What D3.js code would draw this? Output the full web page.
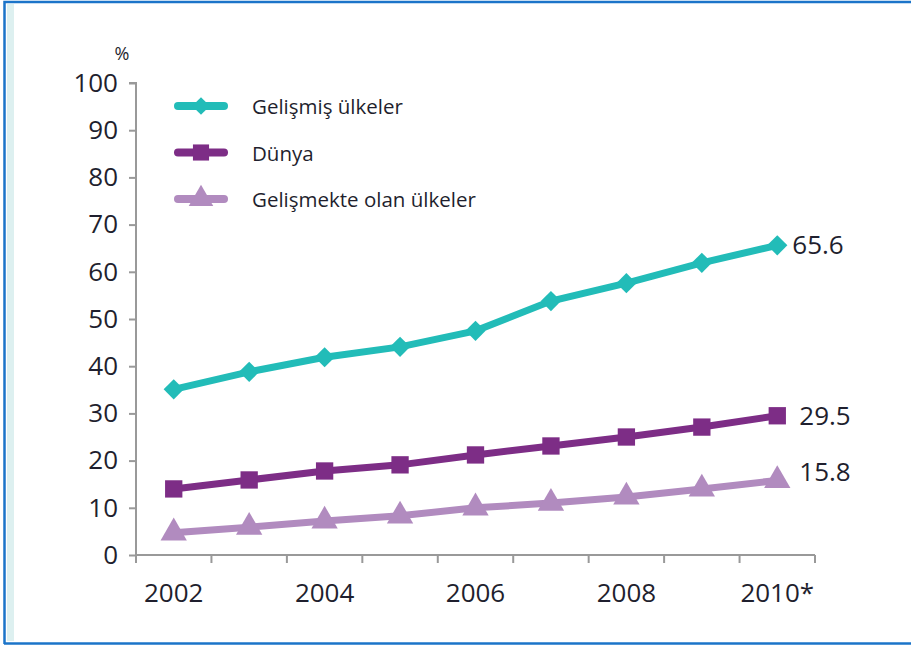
<!DOCTYPE html>
<html lang="tr">
<head>
<meta charset="utf-8">
<title>Gelişmiş ülkeler / Dünya / Gelişmekte olan ülkeler</title>
<script src="https://d3js.org/d3.v7.min.js"></script>
<style>
  body { margin: 0; background: #fff; }
  text { font-family: "Open Sans", Lato, sans-serif; fill: #1f1f2e; }
</style>
</head>
<body>
<script>
var years = ["2002", "2003", "2004", "2005", "2006", "2007", "2008", "2009", "2010"];
var yearLabels = {"2002": "2002", "2004": "2004", "2006": "2006", "2008": "2008", "2010": "2010*"};
var yTicks = [0, 10, 20, 30, 40, 50, 60, 70, 80, 90, 100];

var developed = [35.1, 38.8, 41.9, 44.1, 47.5, 53.8, 57.6, 61.9, 65.6];
var world = [14.0, 15.9, 17.8, 19.1, 21.2, 23.1, 25.0, 27.1, 29.5];
var developing = [4.7, 5.9, 7.2, 8.3, 10.0, 11.0, 12.3, 14.0, 15.8];

var seriesNames = ["Gelişmiş ülkeler", "Dünya", "Gelişmekte olan ülkeler"];
var seriesColors = ["#22bcb8", "#7d2d86", "#b18bbf"];
var seriesSymbols = [d3.symbolDiamond2, d3.symbolSquare, d3.symbolTriangle];

var series = [developed, world, developing].map(function(v, i) {
  return { name: seriesNames[i], values: v, color: seriesColors[i], symbol: seriesSymbols[i] };
});

var width = 911, height = 646;
var svg = d3.select("body").append("svg")
    .attr("width", width)
    .attr("height", height);

// frame
svg.append("rect").attr("x", 7).attr("y", 4).attr("width", 7).attr("height", 637).attr("fill", "#ddf0f0");
svg.append("path").attr("d", "M4.5,644V2H911").attr("fill", "none").attr("stroke", "#1b74c9").attr("stroke-width", 2.5);
svg.append("line").attr("x1", 4).attr("x2", 911).attr("y1", 643.5).attr("y2", 643.5)
    .attr("stroke", "#1b74c9").attr("stroke-width", 2.5);

var x0 = 136, x1 = 815, yTop = 83, yBot = 555;

var x = d3.scaleBand().domain(years).range([x0, x1]);
var y = d3.scaleLinear().domain([0, 100]).range([yBot, yTop]);

// y axis
var yAxis = svg.append("g")
    .attr("transform", "translate(" + x0 + ",0)")
    .call(d3.axisLeft(y).tickValues(yTicks).tickSize(7).tickPadding(11));
yAxis.select(".domain").attr("stroke", "#999").attr("stroke-width", 2).attr("d", "M-7," + yTop + "H0V" + yBot);
yAxis.selectAll(".tick line").attr("stroke", "#999").attr("stroke-width", 2);
yAxis.selectAll(".tick text").style("font-size", "26px").attr("fill", "#1f1f2e");

// x axis
var xAxis = svg.append("g")
    .attr("transform", "translate(0," + yBot + ")")
    .call(d3.axisBottom(x).tickSize(0).tickFormat(function(d) { return yearLabels[d] || ""; }).tickPadding(29));
xAxis.select(".domain").attr("stroke", "#999").attr("stroke-width", 2).attr("d", "M" + x0 + ",0H" + x1);
xAxis.selectAll(".tick text").style("font-size", "26px").attr("fill", "#1f1f2e");
xAxis.selectAll(".boundary")
    .data(years.concat(["end"]))
  .enter().append("line")
    .attr("x1", function(d, i) { return x0 + i * x.step(); })
    .attr("x2", function(d, i) { return x0 + i * x.step(); })
    .attr("y1", 0).attr("y2", 8)
    .attr("stroke", "#999").attr("stroke-width", 2);

svg.append("text").attr("x", 122).attr("y", 60).attr("text-anchor", "middle")
    .style("font-size", "18px").text("%");

var line = d3.line()
    .x(function(d, i) { return x(years[i]) + x.bandwidth() / 2; })
    .y(function(d) { return y(d); });

var g = svg.selectAll(".series")
    .data(series)
  .enter().append("g");

g.append("path")
    .attr("d", function(d) { return line(d.values); })
    .attr("fill", "none")
    .attr("stroke", function(d) { return d.color; })
    .attr("stroke-width", 7);

g.each(function(s) {
  d3.select(this).selectAll(".pt")
      .data(s.values)
    .enter().append("path")
      .attr("transform", function(d, i) {
        return "translate(" + (x(years[i]) + x.bandwidth() / 2) + "," + y(d) + ")";
      })
      .attr("d", d3.symbol().type(s.symbol).size(s.symbol === d3.symbolDiamond2 ? 260 : 300))
      .attr("fill", s.color);

  var last = s.values[s.values.length - 1];
  d3.select(this).append("text")
      .attr("x", x(years[years.length - 1]) + x.bandwidth() / 2 + (s.symbol === d3.symbolDiamond2 ? 15 : 22))
      .attr("y", y(last) + (s.symbol === d3.symbolTriangle ? -9 : 0))
      .attr("dy", "0.35em")
      .style("font-size", "26px")
      .text(last.toFixed(1));
});

// legend
var legend = svg.selectAll(".legend")
    .data(series)
  .enter().append("g")
    .attr("transform", function(d, i) { return "translate(178," + (106 + i * 46.5) + ")"; });
legend.append("line").attr("x1", 0).attr("x2", 46).attr("y1", 0).attr("y2", 0)
    .attr("stroke", function(d) { return d.color; }).attr("stroke-width", 8).attr("stroke-linecap", "round");
legend.append("path").attr("transform", "translate(23,0)")
    .attr("d", function(d) { return d3.symbol().type(d.symbol).size(d.symbol === d3.symbolDiamond2 ? 200 : 260)(); })
    .attr("fill", function(d) { return d.color; });
legend.append("text").attr("x", 74).attr("y", 1).attr("dy", "0.35em")
    .style("font-size", "20.5px").attr("fill", "#111").text(function(d) { return d.name; });
</script>
</body>
</html>
